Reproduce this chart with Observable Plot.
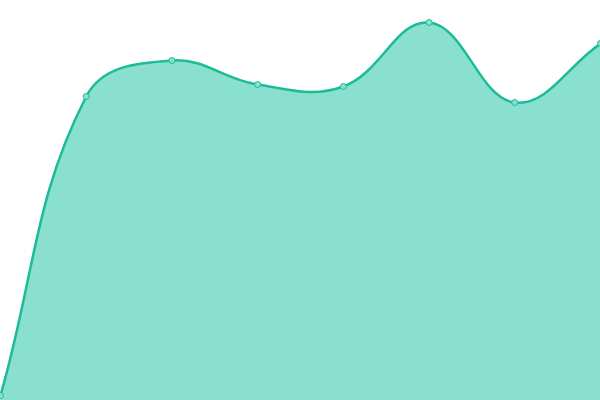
<!DOCTYPE html>
<html>
<head>
<meta charset="utf-8">
<script src="https://cdn.jsdelivr.net/npm/d3@7"></script>
<script src="https://cdn.jsdelivr.net/npm/@observablehq/plot@0.6"></script>
<style>
html, body { margin: 0; padding: 0; background: #fff; }
#chart svg { display: block; }
</style>
</head>
<body>
<div id="chart"></div>
<script>
const indices = [0, 1, 2, 3, 4, 5, 6, 7];
const values = [5, 304, 340, 316, 314, 378, 298, 357];

const data = indices.map((i, k) => ({ i, v: values[k] }));

// Tension-based spline (Chart.js style) as a d3 curve factory
function tensionCurve(tension) {
  return function (context) {
    return {
      _line: NaN,
      areaStart() { this._line = 0; },
      areaEnd() { this._line = NaN; },
      lineStart() { this._pts = []; },
      point(x, y) { this._pts.push([+x, +y]); },
      lineEnd() {
        const p = this._pts, n = p.length;
        if (n) {
          if (this._line) context.lineTo(p[0][0], p[0][1]);
          else context.moveTo(p[0][0], p[0][1]);
          if (n > 1) {
            const cps = p.map((cur, i) => {
              const prev = p[Math.max(i - 1, 0)];
              const next = p[Math.min(i + 1, n - 1)];
              const d01 = Math.hypot(cur[0] - prev[0], cur[1] - prev[1]);
              const d12 = Math.hypot(next[0] - cur[0], next[1] - cur[1]);
              let s01 = d01 / (d01 + d12), s12 = d12 / (d01 + d12);
              if (isNaN(s01)) s01 = 0;
              if (isNaN(s12)) s12 = 0;
              const fa = tension * s01, fb = tension * s12;
              const dx = next[0] - prev[0], dy = next[1] - prev[1];
              return {
                prev: [cur[0] - fa * dx, cur[1] - fa * dy],
                next: [cur[0] + fb * dx, cur[1] + fb * dy]
              };
            });
            for (let i = 1; i < n; i++) {
              const a = cps[i - 1].next, b = cps[i].prev;
              context.bezierCurveTo(a[0], a[1], b[0], b[1], p[i][0], p[i][1]);
            }
          }
        }
        if (this._line || (this._line !== 0 && n === 1)) context.closePath();
        this._line = 1 - this._line;
      }
    };
  };
}

const curve = tensionCurve(0.4);

const chart = Plot.plot({
  width: 600,
  height: 400,
  margin: 0,
  x: { domain: [0, 7], axis: null },
  y: { domain: [0, 400], axis: null },
  marks: [
    Plot.areaY(data, { x: "i", y: "v", curve, fill: "#8ae0cf", fillOpacity: 1 }),
    Plot.lineY(data, { x: "i", y: "v", curve, stroke: "#1dbb98", strokeWidth: 2.5 }),
    Plot.dot(data, { x: "i", y: "v", r: 3, fill: "#8ae0cf", stroke: "#1dbb98", strokeWidth: 1 })
  ]
});
document.getElementById("chart").appendChild(chart);
</script>
</body>
</html>
